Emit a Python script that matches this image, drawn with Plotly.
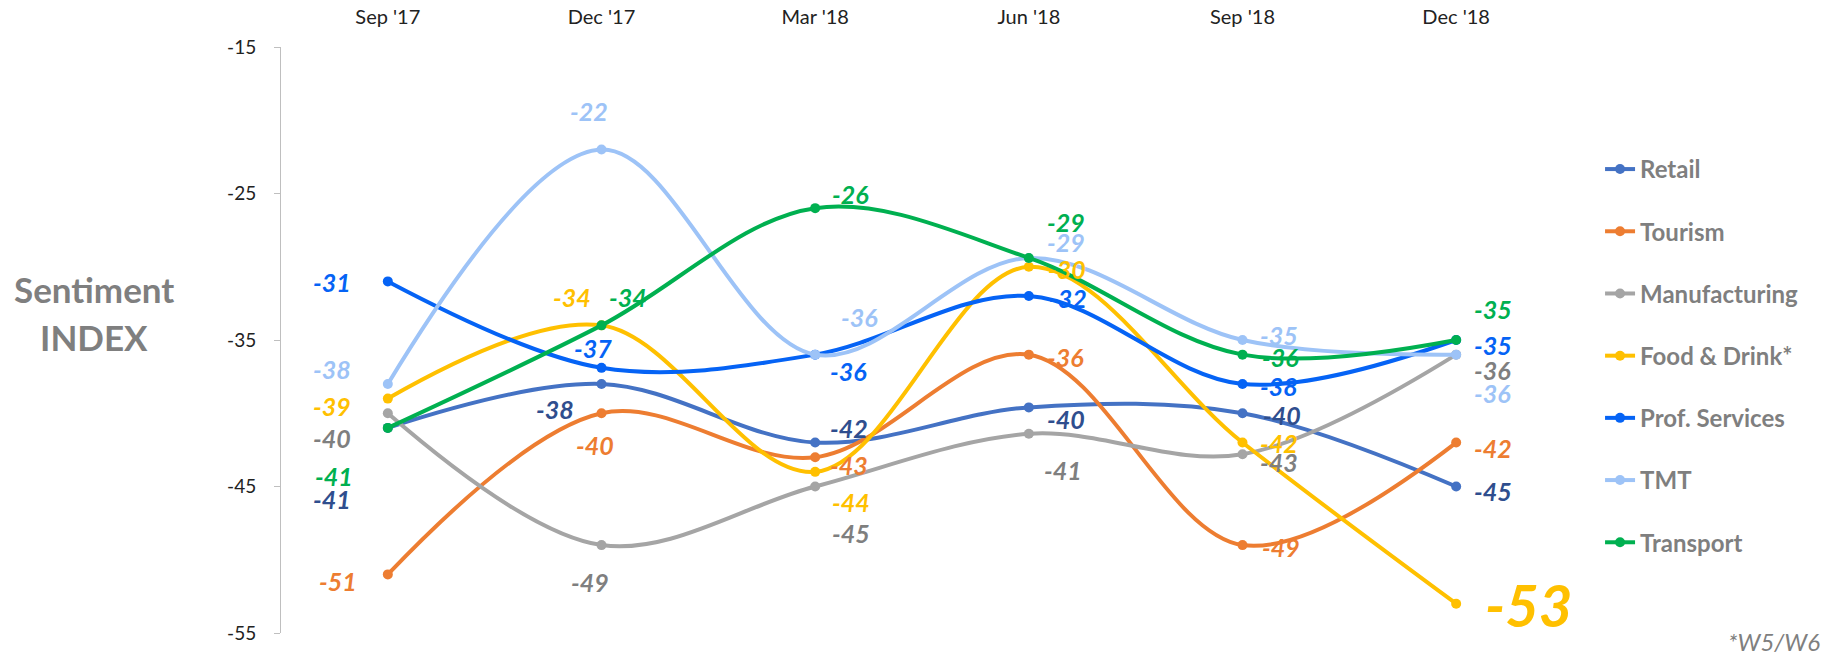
import plotly.graph_objects as go

categories = ["Sep '17", "Dec '17", "Mar '18", "Jun '18", "Sep '18", "Dec '18"]
y_tick_values = [-55, -45, -35, -25, -15]
y_tick_labels = ["-55", "-45", "-35", "-25", "-15"]

retail = [-41, -38, -42, -39.6, -40, -45]
tourism = [-51, -40, -43, -36, -49, -42]
manufacturing = [-40, -49, -45, -41.4, -42.8, -36]
food_drink = [-39, -34, -44, -30, -42, -53]
prof_services = [-31, -36.9, -36, -32, -38, -35]
tmt = [-38, -22, -36, -29.4, -35, -36]
transport = [-41, -34, -26, -29.4, -36, -35]

series_names = ["Retail", "Tourism", "Manufacturing", "Food & Drink*", "Prof. Services", "TMT", "Transport"]
series_values = [retail, tourism, manufacturing, food_drink, prof_services, tmt, transport]
line_colors = ["#4472C4", "#ED7D31", "#A5A5A5", "#FFC000", "#0563F5", "#9DC3F7", "#00B050"]
label_colors = ["#2F4E8E", "#ED7D31", "#7F7F7F", "#FFC000", "#0563F5", "#9DC3F7", "#00B050"]

# label placement per series/point: (xanchor, xshift px, dy px downward)
label_pos = {
    "Retail": [("right", -35, 71), ("right", -26, 25), ("left", 13, -15), ("left", 16, 12), ("left", 18, 2), ("left", 16, 4)],
    "Tourism": [("right", -29, 7), ("center", -7, 32), ("left", 13, 8), ("left", 16, 2), ("left", 17, 2), ("left", 16, 5)],
    "Manufacturing": [("right", -35, 25), ("center", -12, 37), ("left", 15, 46), ("left", 13, 36), ("left", 15, 8), ("left", 16, 15)],
    "Food & Drink*": [("right", -35, 7), ("right", -9, -28), ("left", 15, 30), ("left", 17, 2), ("left", 15, 0), ("left", 27, 1)],
    "Prof. Services": [("right", -35, 1), ("center", -9, -20), ("left", 13, 16), ("left", 18, 2), ("left", 15, 2), ("left", 16, 5)],
    "TMT": [("right", -35, -15), ("center", -13, -39), ("left", 24, -38), ("left", 16, -16), ("left", 15, -5), ("left", 16, 38)],
    "Transport": [("right", -33, 48), ("left", 5, -28), ("left", 15, -14), ("left", 16, -36), ("left", 17, 2), ("left", 16, -31)],
}

fig = go.Figure()
for i, (name, vals) in enumerate(zip(series_names, series_values)):
    fig.add_trace(go.Scatter(
        x=list(range(len(categories))), y=vals, name=name,
        mode="lines+markers",
        line=dict(color=line_colors[i], width=4, shape="spline", smoothing=1),
        marker=dict(color=line_colors[i], size=10),
        legendgroup=name, cliponaxis=False, hoverinfo="skip",
    ))

annotations = []
for i, (name, vals) in enumerate(zip(series_names, series_values)):
    for j, v in enumerate(vals):
        xa, xs, dy = label_pos[name][j]
        big = (name == "Food & Drink*" and j == len(vals) - 1)
        annotations.append(dict(
            x=j, y=v, xref="x", yref="y", text=str(int(round(v))),
            showarrow=False, xanchor=xa, yanchor="middle",
            xshift=xs, yshift=-dy,
            font=dict(family="Lato", size=58 if big else 25, color=label_colors[i],
                      weight="bold", style="italic"),
        ))

annotations.append(dict(x=-0.1459, y=-31.5, xref="paper", yref="y", text="Sentiment",
                        showarrow=False, xanchor="center", yanchor="middle",
                        font=dict(family="Lato", size=35, color="#7F7F7F", weight="bold")))
annotations.append(dict(x=-0.1459, y=-34.8, xref="paper", yref="y", text="INDEX",
                        showarrow=False, xanchor="center", yanchor="middle",
                        font=dict(family="Lato", size=35, color="#7F7F7F", weight="bold")))
annotations.append(dict(x=1.202, y=-0.0148, xref="paper", yref="paper", text="*W5/W6",
                        showarrow=False, xanchor="right", yanchor="middle",
                        font=dict(family="Lato", size=24, color="#7F7F7F", style="italic")))

fig.update_layout(
    width=1831, height=655,
    margin=dict(l=281, r=268, t=47, b=22, autoexpand=False),
    paper_bgcolor="white", plot_bgcolor="white",
    showlegend=True,
    legend=dict(x=1.0289, y=0.8294, xanchor="left", yanchor="top",
                font=dict(family="Lato", size=24, color="#7F7F7F", weight="bold"),
                tracegroupgap=28, itemwidth=30, bgcolor="rgba(0,0,0,0)"),
    annotations=annotations,
    xaxis=dict(range=[-0.5, 5.5], tickvals=list(range(len(categories))), ticktext=categories,
               side="top", showline=False, showgrid=False, zeroline=False, ticks="",
               ticklabelstandoff=18, automargin=False,
               tickfont=dict(family="Lato", size=20, color="#222222")),
    yaxis=dict(range=[-55, -15], tickvals=y_tick_values, ticktext=y_tick_labels,
               showline=True, linecolor="#BFBFBF", linewidth=1, ticks="outside",
               ticklen=6, tickcolor="#BFBFBF", showgrid=False, zeroline=False,
               ticklabelstandoff=14, automargin=False,
               tickfont=dict(family="Lato", size=19, color="#222222")),
)

fig.write_html("out.html", config={"displayModeBar": False},
               post_script="document.body.style.margin='0';")
